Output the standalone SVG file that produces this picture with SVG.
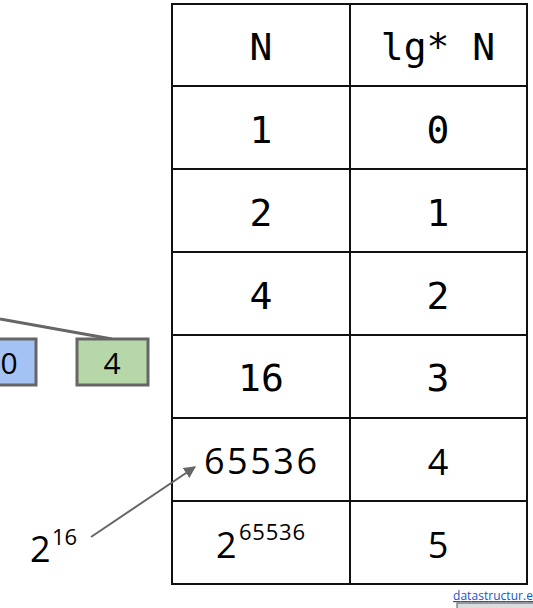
<svg xmlns="http://www.w3.org/2000/svg" width="533" height="608" viewBox="0 0 533 608">
<defs>
<style>
.grid{stroke:#111;stroke-width:2;fill:none}
.mono{font-family:"DejaVu Sans Mono","Liberation Mono",monospace;font-size:38px;fill:#000;text-anchor:middle}
.sans{font-family:"Open Sans","Noto Sans",sans-serif;fill:#000}
.box{stroke:#666;stroke-width:3}
.conn{stroke:#666;stroke-width:2;fill:none}
</style>
<marker id="ah" viewBox="0 0 10 10" refX="9" refY="5" markerWidth="6" markerHeight="6" orient="auto" markerUnits="strokeWidth">
<path d="M0,0 L10,5 L0,10 z" fill="#666"/>
</marker>
</defs>
<rect width="533" height="608" fill="#fff"/>
<g id="table">
<rect class="grid" x="172" y="4" width="355" height="580"/>
<line class="grid" x1="350" y1="4" x2="350" y2="584"/>
<line class="grid" x1="172" y1="86" x2="527" y2="86"/>
<line class="grid" x1="172" y1="169" x2="527" y2="169"/>
<line class="grid" x1="172" y1="252" x2="527" y2="252"/>
<line class="grid" x1="172" y1="335" x2="527" y2="335"/>
<line class="grid" x1="172" y1="418" x2="527" y2="418"/>
<line class="grid" x1="172" y1="501" x2="527" y2="501"/>
<text class="mono" x="261" y="60">N</text>
<text class="mono" x="438" y="60">lg* N</text>
<text class="mono" x="261" y="143">1</text>
<text class="mono" x="438" y="143">0</text>
<text class="mono" x="261" y="226">2</text>
<text class="mono" x="438" y="226">1</text>
<text class="mono" x="261" y="309">4</text>
<text class="mono" x="438" y="309">2</text>
<text class="mono" x="261" y="391">16</text>
<text class="mono" x="438" y="391">3</text>
<text class="sans" x="204" y="474" font-size="36" textLength="113" lengthAdjust="spacing">65536</text>
<text class="sans" x="438" y="475" font-size="36" text-anchor="middle">4</text>
<text class="sans" x="216" y="558" font-size="36">2</text>
<text class="sans" x="239" y="540" font-size="22" textLength="66" lengthAdjust="spacing">65536</text>
<text class="sans" x="438" y="558" font-size="36" text-anchor="middle">5</text>
</g>
<g id="connectors">
<line class="conn" x1="0" y1="319" x2="112" y2="339" style="stroke-width:3"/>
<line class="conn" x1="91" y1="537" x2="195" y2="467" marker-end="url(#ah)"/>
</g>
<g id="node-0">
<rect class="box" x="-36" y="339" width="72" height="46" fill="#a4c2f4"/>
<text class="sans" x="9" y="374" font-size="30" text-anchor="middle">0</text>
</g>
<g id="node-4">
<rect class="box" x="77" y="339" width="71" height="46" fill="#b6d7a8"/>
<text class="sans" x="112" y="374" font-size="30" text-anchor="middle">4</text>
</g>
<g id="label-2-16">
<text class="sans" x="30" y="562" font-size="36">2</text>
<text class="sans" x="52" y="545" font-size="22">16</text>
</g>
<g id="link">
<text x="453" y="600" font-family="Open Sans,Noto Sans,sans-serif" font-size="12" fill="#1155cc" text-decoration="underline" textLength="80">datastructur.e</text>
<rect x="457" y="603" width="80" height="8" fill="#ddd" stroke="#555" stroke-width="1"/>
</g>
</svg>
